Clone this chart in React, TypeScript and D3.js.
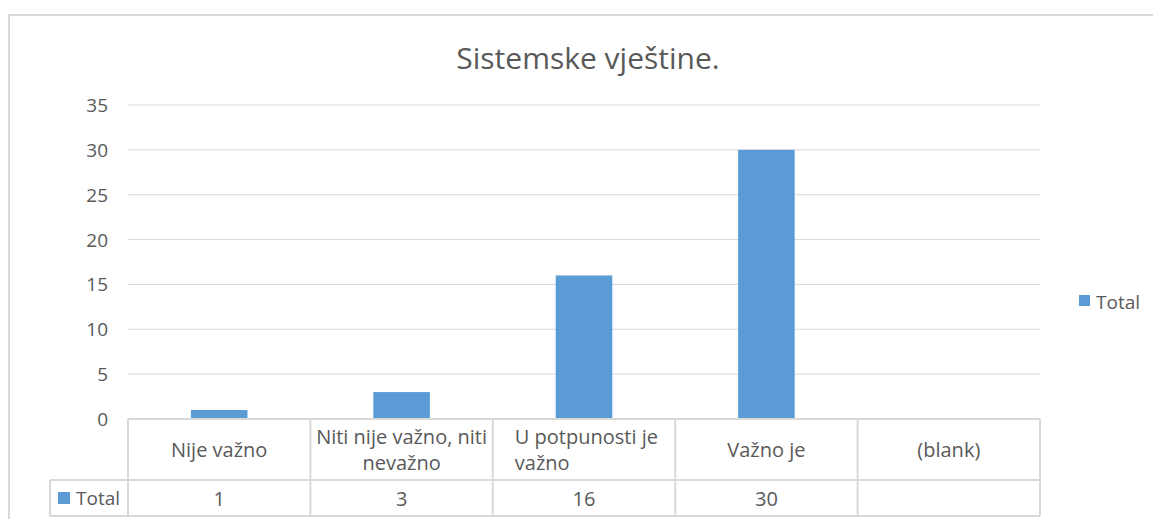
import { useMemo } from "react";
import * as d3 from "d3";

const WIDTH = 1153;
const HEIGHT = 519;

const categories = ["Nije važno", "Niti nije važno, niti nevažno", "U potpunosti je važno", "Važno je", "(blank)"];
const categoryLines = [["Nije važno"], ["Niti nije važno, niti", "nevažno"], ["U potpunosti je", "važno"], ["Važno je"], ["(blank)"]];
// Excel left-aligns the wrapped third label
const categoryLeftAligned = [false, false, true, false, false];
const values: (number | null)[] = [1, 3, 16, 30, null];
const yTicks = [0, 5, 10, 15, 20, 25, 30, 35];
const seriesName = "Total";
const title = "Sistemske vještine.";

const PLOT = { left: 128, right: 1040, top: 105, bottom: 419 };
const TABLE = { rowSplit: 480, bottom: 516, labelLeft: 50 };
const GRID = "#d9d9d9";
const BAR = "#5b9bd5";
const TEXT = "#595959";
const FONT = "'Open Sans', 'Noto Sans', sans-serif";

export default function App() {
    const xScale = useMemo(
        () => d3.scaleBand().domain(categories).range([PLOT.left, PLOT.right]).paddingInner(0).paddingOuter(0),
        []
    );
    const yScale = useMemo(() => d3.scaleLinear().domain([0, 35]).range([PLOT.bottom, PLOT.top]), []);

    const bw = xScale.bandwidth();
    const barW = bw * 0.31;

    const grid = yTicks.map((t) => (
        <g key={t}>
            <line x1={PLOT.left} x2={PLOT.right} y1={yScale(t)} y2={yScale(t)} stroke={GRID} strokeWidth={1} />
            <text x={108} y={yScale(t)} textAnchor="end" dominantBaseline="central" fontSize={19} fill={TEXT}>
                {t}
            </text>
        </g>
    ));

    const bars = categories.map((c, i) => {
        const v = values[i];
        if (v === null) return null;
        const x = (xScale(c) ?? 0) + bw / 2 - barW / 2;
        return <rect key={c} x={x} y={yScale(v)} width={barW} height={yScale(0) - yScale(v)} fill={BAR} />;
    });

    const tableLines = (
        <g stroke={GRID} strokeWidth={2} fill="none">
            <line x1={PLOT.left} x2={PLOT.right} y1={PLOT.bottom} y2={PLOT.bottom} />
            <line x1={TABLE.labelLeft} x2={PLOT.right} y1={TABLE.rowSplit} y2={TABLE.rowSplit} />
            <line x1={TABLE.labelLeft} x2={PLOT.right} y1={TABLE.bottom} y2={TABLE.bottom} />
            <line x1={TABLE.labelLeft} x2={TABLE.labelLeft} y1={TABLE.rowSplit} y2={TABLE.bottom} />
            {categories.map((c) => (
                <line key={c} x1={xScale(c)} x2={xScale(c)} y1={PLOT.bottom} y2={TABLE.bottom} />
            ))}
            <line x1={PLOT.right} x2={PLOT.right} y1={PLOT.bottom} y2={TABLE.bottom} />
        </g>
    );

    const catLabels = categories.map((c, i) => {
        const lines = categoryLines[i];
        const cx = (xScale(c) ?? 0) + bw / 2;
        const midY = (PLOT.bottom + TABLE.rowSplit) / 2;
        const lh = 26;
        const left = categoryLeftAligned[i];
        return (
            <text key={c} textAnchor={left ? "start" : "middle"} fontSize={20} fill={TEXT}>
                {lines.map((l, j) => (
                    <tspan
                        key={j}
                        x={left ? (xScale(c) ?? 0) + 22 : cx}
                        y={midY + (j - (lines.length - 1) / 2) * lh}
                        dominantBaseline="central"
                    >
                        {l}
                    </tspan>
                ))}
            </text>
        );
    });

    const rowY = (TABLE.rowSplit + TABLE.bottom) / 2;
    const valLabels = categories.map((c, i) => (
        <text key={c} x={(xScale(c) ?? 0) + bw / 2} y={rowY} textAnchor="middle" dominantBaseline="central" fontSize={20} fill={TEXT}>
            {values[i] ?? ""}
        </text>
    ));

    return (
        <svg
            width={WIDTH}
            height={HEIGHT}
            style={{ position: "absolute", left: 0, top: 0, fontFamily: FONT, background: "#fff" }}
        >
            <rect x={9} y={15} width={WIDTH + 10} height={HEIGHT + 10} fill="#fff" stroke={GRID} strokeWidth={2} />
            <text x={588} y={57} textAnchor="middle" dominantBaseline="central" fontSize={30} fill={TEXT}>
                {title}
            </text>
            {grid}
            {bars}
            {tableLines}
            {catLabels}
            {valLabels}
            <rect x={58} y={rowY - 6} width={12} height={12} fill={BAR} />
            <text x={76} y={rowY} dominantBaseline="central" fontSize={19} fill={TEXT}>
                {seriesName}
            </text>
            <rect x={1079} y={295} width={11} height={11} fill={BAR} />
            <text x={1096} y={302} dominantBaseline="central" fontSize={19} fill={TEXT}>
                {seriesName}
            </text>
        </svg>
    );
}
